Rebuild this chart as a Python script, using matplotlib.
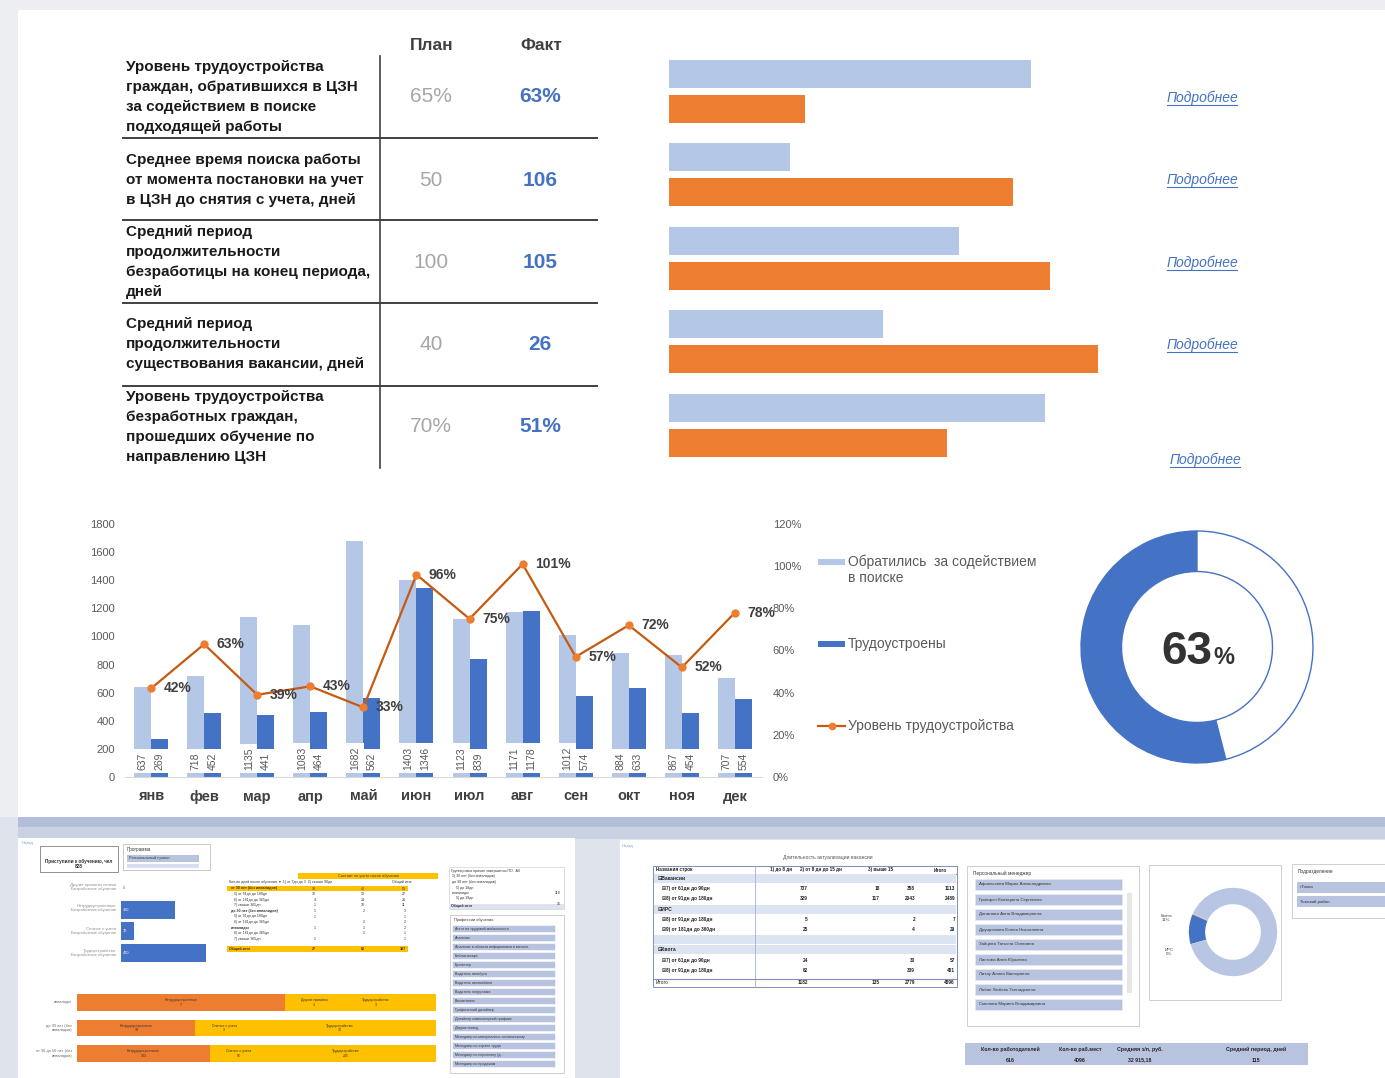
import numpy as np
import matplotlib
matplotlib.use('Agg')
import matplotlib.pyplot as plt
from matplotlib.patches import Rectangle
from matplotlib.ticker import FuncFormatter, MultipleLocator

plt.rcParams['font.family'] = ['Liberation Sans', 'DejaVu Sans']

W, H, DPI = 1385, 1078, 100

# ---------------- data ----------------
kpi_names = [
    "Уровень трудоустройства\nграждан, обратившихся в ЦЗН\nза содействием в поиске\nподходящей работы",
    "Среднее время поиска работы\nот момента постановки на учет\nв ЦЗН до снятия с учета, дней",
    "Средний период\nпродолжительности\nбезработицы на конец периода,\nдней",
    "Средний период\nпродолжительности\nсуществования вакансии, дней",
    "Уровень трудоустройства\nбезработных граждан,\nпрошедших обучение по\nнаправлению ЦЗН",
]
kpi_plan = ["65%", "50", "100", "40", "70%"]
kpi_fact = ["63%", "106", "105", "26", "51%"]
kpi_bar_plan = [84.2, 28.1, 67.4, 49.8, 87.4]
kpi_bar_fact = [31.6, 80.0, 88.6, 99.8, 64.7]
link_text = "Подробнее"

months = ["янв", "фев", "мар", "апр", "май", "июн", "июл", "авг", "сен", "окт", "ноя", "дек"]
applied = [637, 718, 1135, 1083, 1682, 1403, 1123, 1171, 1012, 884, 867, 707]
employed = [269, 452, 441, 464, 562, 1346, 839, 1178, 574, 633, 454, 554]
rate = [42, 63, 39, 43, 33, 96, 75, 101, 57, 72, 52, 78]
legend_labels = ["Обратились  за содействием\nв поиске", "Трудоустроены", "Уровень трудоустройства"]

donut_values = [54, 46]
donut_center = "63"

# thumbnails (left)
thumb_l_rows = ["Другие причины снятия\nБезработные обучение", "Нетрудоустроенные\nБезработные обучение",
                "Снятые с учета\nБезработные обучение", "Трудоустройство\nБезработные обучение"]
thumb_l_vals = [0, 300, 70, 470]
thumb_stack_rows = ["инвалиды", "до 30 лет (без\nинвалидов)", "от 30 до 50 лет (без\nинвалидов)"]
thumb_stack_orange = [58, 33, 37]
thumb_stack_yellow = [42, 67, 63]
thumb_stack_text = [("Нетрудоустроенные\n7", "Другие причины\n3", "Трудоустройство\n3"),
                    ("Нетрудоустроенные\n18", "Снятые с учета\n3", "Трудоустройство\n30"),
                    ("Нетрудоустроенные\n103", "Снятые с учета\n56", "Трудоустройство\n205")]
prof_list = ["Агент по трудовой мобильности", "Аналитик", "Аналитик в области информатики и вычисл.",
             "Библиотекарь", "Бухгалтер", "Водитель автобуса", "Водитель автомобиля",
             "Водитель погрузчика", "Воспитатель", "Графический дизайнер",
             "Дизайнер компьютерной графики", "Документовед", "Менеджер по материально-техническому",
             "Менеджер по охране труда", "Менеджер по персоналу (д...", "Менеджер по продажам"]
yt_rows = [("от 30 лет (без инвалидов)", "19", "40", "59", True),
           ("5) от 91дн до 180дн", "15", "12", "27", False),
           ("6) от 181дн до 365дн", "4", "24", "28", False),
           ("7) свыше 365дн", "1", "10", "11", False),
           ("до 30 лет (без инвалидов)", "1", "2", "3", False),
           ("5) от 91дн до 180дн", "1", "", "1", False),
           ("6) от 181дн до 365дн", "", "2", "2", False),
           ("инвалиды", "1", "1", "2", False),
           ("6) от 181дн до 365дн", "", "1", "1", False),
           ("7) свыше 365дн", "1", "", "1", False)]

# thumbnails (right)
pv_header = ["Названия строк", "1) до 8 дн", "2) от 8 дн до 15 дн", "3) выше 15", "Итого"]
pv_rows = [("Вакансии", None), ("7) от 61дн до 90дн", ["737", "18", "358", "1113"]),
           ("8) от 91дн до 180дн", ["329", "117", "2043", "2489"]), ("ИРС", None),
           ("8) от 91дн до 180дн", ["5", "", "2", "7"]), ("9) от 181дн до 360дн", ["25", "", "4", "29"]),
           ("", None), ("Квота", None), ("7) от 61дн до 90дн", ["24", "", "33", "57"]),
           ("8) от 91дн до 180дн", ["62", "", "339", "401"])]
pv_total = ["1182", "135", "2779", "4096"]
managers = ["Афанасьева Мария Александровна", "Григорян Екатерина Сергеевна", "Данилова Анна Владимировна",
            "Друщинкова Елена Николаевна", "Зайцева Татьяна Олеговна", "Листова Анна Юрьевна",
            "Литау Алина Викторовна", "Лобан Любовь Геннадьевна", "Смолова Марина Владимировна"]
mini_donut = [11, 0.5, 88.5]
summary_heads = ["Кол-во работодателей", "Кол-во раб.мест", "Средняя з/п, руб.", "Средний период, дней"]
summary_vals = ["616", "4096", "32 915,18", "115"]

# ---------------- colours ----------------
C_LIGHT = "#b4c7e7"
C_BLUE = "#4472c4"
C_ORANGE = "#ed7d31"
C_LINE = "#c55a11"
C_GRAY = "#595959"
C_YELLOW = "#ffc000"
C_SLICER = "#b8c4df"

fig = plt.figure(figsize=(W / DPI, H / DPI), dpi=DPI)
fig.patch.set_facecolor("#eceef2")

bg = fig.add_axes([0, 0, 1, 1])
bg.set_xlim(0, W)
bg.set_ylim(H, 0)
bg.axis("off")


def px_axes(x0, y0, x1, y1):
    ax = fig.add_axes([x0 / W, 1 - y1 / H, (x1 - x0) / W, (y1 - y0) / H])
    ax.patch.set_alpha(0)
    return ax


def rect(x, y, w, h, **kw):
    bg.add_patch(Rectangle((x, y), w, h, **kw))


# page background pieces
rect(0, 817, W, H - 817, fc="#dfe3ec", ec="none")
rect(18, 817, W - 18, 10, fc="#b3bfda", ec="none")
rect(18, 827, W - 18, 12, fc="#c9d1e3", ec="none")
rect(18, 10, W - 18, 807, fc="white", ec="none")
rect(18, 838, 557, H - 838, fc="white", ec="none")
rect(620, 840, W - 620, H - 840, fc="white", ec="none")

# ---------------- KPI table ----------------
row_c = [97, 180, 262, 344, 427]
bg.text(432, 45, "План", ha="center", va="center", fontsize=12.5, color="#404040", fontweight="bold")
bg.text(541, 45, "Факт", ha="center", va="center", fontsize=12.5, color="#404040", fontweight="bold")
for i, name in enumerate(kpi_names):
    bg.text(126, row_c[i], name, ha="left", va="center", fontsize=11, fontweight="bold",
            color="#1a1a1a", linespacing=1.55)
    bg.text(431, row_c[i], kpi_plan[i], ha="center", va="center", fontsize=15, color="#a6a6a6")
    bg.text(540, row_c[i], kpi_fact[i], ha="center", va="center", fontsize=15, color=C_BLUE,
            fontweight="bold")
bg.plot([380, 380], [56, 468], color="#404040", lw=1.2)
for yy in [138, 220, 303, 386]:
    bg.plot([123, 597], [yy, yy], color="#404040", lw=1.4)

# ---------------- KPI bars ----------------
axh = px_axes(669, 49.5, 1099, 467)
yy = np.arange(len(kpi_bar_plan))
axh.barh(yy - 0.21, kpi_bar_plan, height=0.335, color=C_LIGHT, align="center")
axh.barh(yy + 0.21, kpi_bar_fact, height=0.335, color=C_ORANGE, align="center")
axh.set_xlim(0, 100)
axh.set_ylim(len(kpi_bar_plan) - 0.5, -0.5)
axh.axis("off")

link_pos = [(1202, 98), (1202, 180), (1202, 263), (1202, 345), (1205, 460)]
for (lx, ly) in link_pos:
    bg.text(lx, ly, link_text, ha="center", va="center", fontsize=10, style="italic", color=C_BLUE)
    bg.plot([lx - 35, lx + 35], [ly + 7, ly + 7], color=C_BLUE, lw=0.8)

# ---------------- combo chart ----------------
ax = px_axes(124.5, 524, 761.5, 777)
x = np.arange(len(months))
bw = 0.32
ax.bar(x - bw / 2, applied, bw, color=C_LIGHT, zorder=1)
ax.bar(x + bw / 2, employed, bw, color=C_BLUE, zorder=1)
ax.set_xlim(-0.5, len(months) - 0.5)
ax.set_ylim(0, 1800)
ax.yaxis.set_major_locator(MultipleLocator(200))
ax.set_xticks(x)
ax.set_xticklabels(months, fontsize=10.5, fontweight="bold", color="#404040")
ax.tick_params(axis="x", length=0, pad=9)
ax.tick_params(axis="y", length=0, pad=7, labelsize=8, labelcolor=C_GRAY)
for s in ["top", "left", "right"]:
    ax.spines[s].set_visible(False)
ax.spines["bottom"].set_color("#d9d9d9")
for i in range(len(months)):
    for xo, v in [(-bw / 2, applied[i]), (bw / 2, employed[i])]:
        ax.text(i + xo, 52, str(v), rotation=90, ha="center", va="bottom", fontsize=7.5, color=C_GRAY,
                bbox=dict(boxstyle="square,pad=0.35", fc="white", ec="none"), zorder=3)

ax2 = ax.twinx()
ax2.patch.set_alpha(0)
r = np.array(rate) / 100.0
ax2.plot(x, r, color=C_LINE, lw=1.6, marker="o", ms=5, mfc=C_ORANGE, mec=C_ORANGE, zorder=4)
ax2.set_ylim(0, 1.2)
ax2.yaxis.set_major_locator(MultipleLocator(0.2))
ax2.yaxis.set_major_formatter(FuncFormatter(lambda v, p: f"{v * 100:.0f}%"))
ax2.tick_params(axis="y", length=0, pad=8, labelsize=8, labelcolor=C_GRAY)
for s in ["top", "left", "right", "bottom"]:
    ax2.spines[s].set_visible(False)
for i, v in enumerate(rate):
    ax2.annotate(f"{v}%", (x[i], r[i]), xytext=(9, 0), textcoords="offset points", ha="left",
                 va="center", fontsize=10, fontweight="bold", color="#404040", zorder=5)

# ---------------- legend ----------------
rect(818, 559, 27, 6, fc=C_LIGHT, ec="none")
bg.text(848, 562, "Обратились  за содействием", ha="left", va="center", fontsize=10, color=C_GRAY)
bg.text(848, 578, "в поиске", ha="left", va="center", fontsize=10, color=C_GRAY)
rect(818, 641, 27, 6, fc=C_BLUE, ec="none")
bg.text(848, 644, legend_labels[1], ha="left", va="center", fontsize=10, color=C_GRAY)
bg.plot([818, 845], [726, 726], color=C_LINE, lw=1.6)
bg.plot([831.5], [726], marker="o", ms=4.5, color=C_ORANGE)
bg.text(848, 726, legend_labels[2], ha="left", va="center", fontsize=10, color=C_GRAY)

# ---------------- donut ----------------
axd = px_axes(1077, 527, 1317, 767)
axd.pie(donut_values, radius=1.16, startangle=90, counterclock=True, colors=[C_BLUE, "white"],
        wedgeprops=dict(width=0.405, edgecolor=C_BLUE, linewidth=1.0))
axd.set_xlim(-1.2, 1.2)
axd.set_ylim(-1.2, 1.2)
axd.set_aspect("equal")
axd.axis("off")
bg.text(1212, 664, donut_center, ha="right", va="baseline", fontsize=33, fontweight="bold", color="#333333")
bg.text(1213, 664, "%", ha="left", va="baseline", fontsize=17, fontweight="bold", color="#333333")

# ---------------- left thumbnail ----------------
TF = 3.3
bg.text(22, 843, "Назад", fontsize=3, color="#7f9fd0", va="center")
rect(40, 846, 78, 26, fc="white", ec="#7f7f7f", lw=0.6)
bg.text(79, 864, "Приступили к обучению, чел\n828", ha="center", va="center", fontsize=TF,
        fontweight="bold", color="#333")
rect(123, 844, 87, 26, fc="white", ec="#c0c0c0", lw=0.6)
bg.text(127, 850, "Программа", fontsize=TF, va="center", color="#333")
rect(127, 855, 72, 7, fc=C_SLICER, ec="none")
bg.text(129, 858.5, "Региональный проект", fontsize=TF - 0.3, va="center", color="#333")
rect(127, 864, 72, 4, fc="#d7deee", ec="none")
ay = [887, 908, 931, 953]
for i, t in enumerate(thumb_l_rows):
    bg.text(116, ay[i], t, ha="right", va="center", fontsize=TF - 0.2, color="#8c8c8c", linespacing=1.2)
axt = px_axes(121, 877, 211, 964)
axt.barh(np.arange(4), thumb_l_vals, height=0.82, color=C_BLUE)
for i, v in enumerate(thumb_l_vals):
    axt.text(8, i, str(v), fontsize=2.8, color="white" if v else "#666", va="center")
axt.set_xlim(0, 500)
axt.set_ylim(3.5, -0.5)
axt.axis("off")

# yellow pivot
rect(298, 873, 140, 6, fc=C_YELLOW, ec="none")
bg.text(368, 876, "Состоит на учете после обучения", ha="center", va="center", fontsize=2.8, color="#333")
bg.text(229, 882.5, "Кол-во дней после обучения  ▾  1) от 7дн до 3  2) свыше 90дн", fontsize=2.6,
        va="center", color="#333")
bg.text(392, 882.5, "Общий итог", fontsize=2.6, va="center", color="#333")
for k, (nm, a, b, c, bold) in enumerate(yt_rows):
    yk = 888.5 + 5.6 * k
    if bold:
        rect(227, yk - 2.7, 181, 5.4, fc=C_YELLOW, ec="none")
    bg.text(231 if not nm[0].isdigit() else 234, yk, nm, fontsize=2.6, va="center", color="#333",
            fontweight="bold" if (bold or not nm[0].isdigit()) else "normal")
    for xx, val in [(316, a), (365, b), (406, c)]:
        bg.text(xx, yk, val, fontsize=2.6, va="center", ha="right", color="#333")
rect(227, 946, 181, 6, fc=C_YELLOW, ec="none")
bg.text(229, 949, "Общий итог", fontsize=2.6, va="center", color="#333", fontweight="bold")
for xx, val in [(316, "27"), (365, "80"), (406, "107")]:
    bg.text(xx, 949, val, fontsize=2.6, va="center", ha="right", color="#333", fontweight="bold")

# right list of left thumb
rect(449, 867, 115, 42, fc="white", ec="#d0d0d0", lw=0.5)
mini = ["Группировка причин завершения ПО   All", " 1) 30 лет (без инвалидов)", " до 30 лет (без инвалидов)",
        "     5) до 18дн", " инвалиды", "     5) до 18дн"]
for k, t in enumerate(mini):
    bg.text(451, 871 + 5.5 * k, t, fontsize=2.6, va="center", color="#333")
bg.text(561, 893, "118", fontsize=2.6, va="center", ha="right", color="#333")
bg.text(561, 904, "16", fontsize=2.6, va="center", ha="right", color="#333")
rect(449, 903.5, 115, 5, fc="#dde3f0", ec="none")
bg.text(451, 906, "Общий итог", fontsize=2.6, va="center", color="#333", fontweight="bold")
rect(450, 915, 114, 158, fc="white", ec="#c8c8c8", lw=0.6)
bg.text(454, 920, "Профессии обучения", fontsize=TF - 0.4, va="center", color="#333")
for k, t in enumerate(prof_list):
    yk = 925 + 9.0 * k
    if yk + 7 > 1072:
        break
    rect(452, yk, 103, 7.4, fc=C_SLICER, ec="white", lw=0.4)
    bg.text(455, yk + 3.7, t, fontsize=2.6, va="center", color="#333")

# stacked bars of left thumb
axs = px_axes(77, 990, 436, 1066)
ys = np.arange(3)
axs.barh(ys, thumb_stack_orange, height=0.66, color=C_ORANGE)
axs.barh(ys, thumb_stack_yellow, left=thumb_stack_orange, height=0.66, color=C_YELLOW)
for i in range(3):
    o = thumb_stack_orange[i]
    axs.text(o / 2, i, thumb_stack_text[i][0], fontsize=2.5, ha="center", va="center", color="#333")
    axs.text(o + 8, i, thumb_stack_text[i][1], fontsize=2.5, ha="center", va="center", color="#333")
    axs.text(o + (100 - o) * 0.6, i, thumb_stack_text[i][2], fontsize=2.5, ha="center", va="center",
             color="#333")
axs.set_xlim(0, 100)
axs.set_ylim(2.5, -0.5)
axs.axis("off")
for i, t in enumerate(thumb_stack_rows):
    bg.text(72, 1002.5 + 25.5 * i, t, ha="right", va="center", fontsize=2.8, color="#666", linespacing=1.2)

# ---------------- right thumbnail ----------------
bg.text(622, 846, "Назад", fontsize=3, color="#7f9fd0", va="center")
bg.text(828, 857, "Длительность актуализации вакансии", ha="center", va="center", fontsize=3.6, color="#555")
rect(653, 866, 304, 121, fc="white", ec="#7f8fb5", lw=0.7)
rect(653, 866, 304, 8, fc="white", ec="#7f8fb5", lw=0.7)
bg.plot([755, 755], [866, 987], color="#9fb0d0", lw=0.6)
hx = [656, 770, 800, 868, 934]
for k, t in enumerate(pv_header):
    bg.text(hx[k], 870, t, fontsize=3.3, va="center", color="#222", fontweight="bold")
col_x = [810, 882, 917, 957]
for k, (nm, vals) in enumerate(pv_rows):
    yk = 878.5 + 10.2 * k
    if vals is None:
        rect(654, yk - 4.5, 302, 9, fc="#dce3f1", ec="none")
        bg.text(658, yk, ("⊟" + nm) if nm else "", fontsize=3.6, va="center", color="#222", fontweight="bold")
    else:
        bg.text(662, yk, "⊞" + nm, fontsize=3.4, va="center", color="#222", fontweight="bold")
        for cx, v in zip(col_x, vals):
            bg.text(cx - 2, yk, v, fontsize=3.4, va="center", ha="right", color="#222", fontweight="bold")
bg.plot([653, 957], [979, 979], color="#7f8fb5", lw=0.8)
bg.text(656, 983, "Итого", fontsize=3.4, va="center", color="#222")
for cx, v in zip(col_x, pv_total):
    bg.text(cx - 2, 983, v, fontsize=3.4, va="center", ha="right", color="#222", fontweight="bold")

# managers slicer
rect(967, 866, 172, 160, fc="white", ec="#c8c8c8", lw=0.6)
bg.text(973, 873, "Персональный менеджер", fontsize=3.4, va="center", color="#333")
for k, t in enumerate(managers):
    yk = 879 + 15.0 * k
    rect(975, yk, 147, 11, fc=C_SLICER, ec="#e6eaf3", lw=0.5)
    bg.text(979, yk + 5.5, t, fontsize=3.2, va="center", color="#333")
rect(1127, 893, 5, 100, fc="#e6e6e6", ec="none")

# mini donut panel
rect(1149, 865, 132, 135, fc="white", ec="#c8c8c8", lw=0.6)
axm = px_axes(1185, 884, 1281, 980)
axm.pie(mini_donut, radius=0.92, startangle=196, counterclock=False,
        colors=[C_BLUE, "#e3b4b4", "#b8c6e4"], wedgeprops=dict(width=0.34, edgecolor="none"))
axm.set_xlim(-1, 1)
axm.set_ylim(-1, 1)
axm.set_aspect("equal")
axm.axis("off")
bg.text(1166, 918, "Квота\n11%", fontsize=3.2, ha="center", va="center", color="#444")
bg.text(1169, 952, "ИРС\n0%", fontsize=3.2, ha="center", va="center", color="#444")
bg.text(1270, 934, "89%", fontsize=3.2, ha="center", va="center", color="#444")

# division slicer
rect(1292, 864, 100, 54, fc="white", ec="#c8c8c8", lw=0.6)
bg.text(1298, 871, "Подразделение", fontsize=3.4, va="center", color="#333")
rect(1297, 882, 95, 11, fc=C_SLICER, ec="none")
bg.text(1300, 887.5, "г.Томск", fontsize=3.2, va="center", color="#333")
rect(1297, 896, 95, 11, fc=C_SLICER, ec="none")
bg.text(1300, 901.5, "Томский район", fontsize=3.2, va="center", color="#333")

# summary
rect(965, 1043, 343, 22, fc=C_SLICER, ec="none")
sx = [1010, 1080, 1140, 1256]
for k in range(4):
    bg.text(sx[k], 1049, summary_heads[k], fontsize=3.8, ha="center", va="center", color="#222",
            fontweight="bold")
    bg.text(sx[k], 1060, summary_vals[k], fontsize=3.8, ha="center", va="center", color="#222",
            fontweight="bold")

fig.savefig("out.png", dpi=DPI, facecolor=fig.get_facecolor())
